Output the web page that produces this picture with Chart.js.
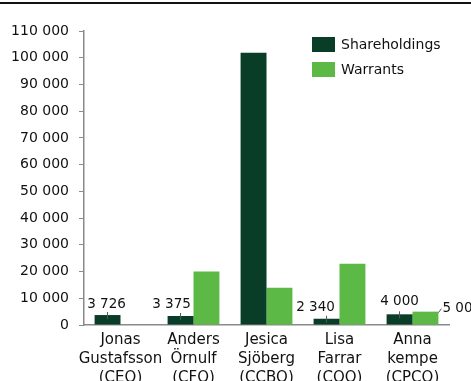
<!DOCTYPE html>
<html>
<head>
<meta charset="utf-8">
<script src="https://cdn.jsdelivr.net/npm/chart.js@4"></script>
<style>
  body { margin: 0; background: #fff; }
  .wrap { position: relative; width: 471px; height: 381px; overflow: hidden; }
  .rule { position: absolute; left: 0; right: 0; top: 2px; height: 2px; background: #111; }
  canvas { position: absolute; left: 0; top: 0; }
</style>
</head>
<body>
<div class="wrap">
  <div class="rule"></div>
  <canvas id="holdings" width="471" height="381"></canvas>
</div>
<script>
const people = [
  ['Jonas', 'Gustafsson', '(CEO)'],
  ['Anders', 'Örnulf', '(CFO)'],
  ['Jesica', 'Sjöberg', '(CCBO)'],
  ['Lisa', 'Farrar', '(COO)'],
  ['Anna', 'kempe', '(CPCO)']
]
const shareholdings = [3726, 3375, 101900, 2340, 4000]
const warrants = [0, 20000, 13900, 22900, 5000]
// which bars carry a value label
const shareLabels = [true, true, false, true, true]
const warrantLabels = [false, false, false, false, true]

const fontFamily = '"DejaVu Sans", sans-serif'
const textColor = '#111'
const spaced = (v) => String(v).replace(/\B(?=(\d{3})+(?!\d))/g, ' ')

// value labels with short leader lines, placed next to the bars
const valueLabels = {
  id: 'valueLabels',
  afterDatasetsDraw(chart, args, opts) {
    const ctx = chart.ctx
    ctx.save()
    ctx.font = '13.5px ' + fontFamily
    ctx.fillStyle = textColor
    ctx.strokeStyle = '#555'
    ctx.lineWidth = 1
    chart.data.datasets.forEach((ds, di) => {
      const meta = chart.getDatasetMeta(di)
      meta.data.forEach((bar, i) => {
        if (!ds.showLabel[i]) return
        const off = opts.offsets[di][i]
        const text = spaced(ds.data[i])
        if (off.side) {
          const x0 = bar.x + bar.width / 2
          ctx.beginPath()
          ctx.moveTo(x0, bar.y + 1)
          ctx.lineTo(x0 + 3, bar.y - 3)
          ctx.stroke()
          ctx.textAlign = 'left'
          ctx.textBaseline = 'middle'
          ctx.fillText(text, x0 + 4, bar.y + off.dy)
        } else {
          ctx.beginPath()
          ctx.moveTo(bar.x, bar.y - 3)
          ctx.lineTo(bar.x, bar.y + 4)
          ctx.stroke()
          ctx.textAlign = 'center'
          ctx.textBaseline = 'middle'
          ctx.fillText(text, bar.x + off.dx, bar.y + off.dy)
        }
      })
    })
    ctx.restore()
  }
}

// legend drawn inside the plot, top right
const boxLegend = {
  id: 'boxLegend',
  afterDraw(chart) {
    const ctx = chart.ctx
    ctx.save()
    ctx.font = '14px ' + fontFamily
    ctx.textBaseline = 'middle'
    ctx.textAlign = 'left'
    chart.data.datasets.forEach((ds, i) => {
      const y = 37 + i * 25
      ctx.fillStyle = ds.backgroundColor
      ctx.fillRect(312, y, 23, 15)
      ctx.fillStyle = textColor
      ctx.fillText(ds.label, 341, y + 8)
    })
    ctx.restore()
  }
}

new Chart(document.getElementById('holdings'), {
  type: 'bar',
  data: {
    labels: people,
    datasets: [
      { label: 'Shareholdings', data: shareholdings, backgroundColor: '#0a3d27', showLabel: shareLabels },
      { label: 'Warrants', data: warrants, backgroundColor: '#5cb946', showLabel: warrantLabels }
    ]
  },
  options: {
    responsive: false,
    animation: false,
    categoryPercentage: 0.71,
    barPercentage: 1,
    layout: { padding: { top: 31, right: 22, left: 0, bottom: 0 } },
    plugins: {
      legend: { display: false },
      tooltip: { enabled: false },
      valueLabels: {
        offsets: [
          [{ dx: -1, dy: -11 }, { dx: -9, dy: -11 }, { dx: 0, dy: 0 }, { dx: -11, dy: -11 }, { dx: 0, dy: -13 }],
          [{}, {}, {}, {}, { side: true, dy: -3 }]
        ]
      }
    },
    scales: {
      x: {
        afterFit: (s) => { s.height = 56 },
        grid: { display: true, drawOnChartArea: false, drawTicks: false },
        border: { color: '#8a8a8a', width: 1.5 },
        ticks: { color: textColor, padding: 6, autoSkip: false, maxRotation: 0, font: { family: fontFamily, size: 15, lineHeight: 1.25 } }
      },
      y: {
        min: 0,
        max: 110000,
        afterFit: (s) => { s.width = 84 },
        grid: { drawOnChartArea: false, tickLength: 5, color: '#8a8a8a' },
        border: { color: '#8a8a8a', width: 1.5 },
        ticks: { stepSize: 10000, color: textColor, padding: 10, font: { family: fontFamily, size: 14 }, callback: (v) => spaced(v) }
      }
    }
  },
  plugins: [valueLabels, boxLegend]
})
</script>
</body>
</html>
